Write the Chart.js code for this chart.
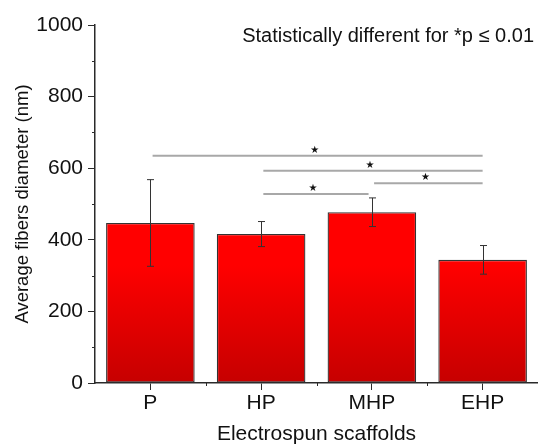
<!DOCTYPE html>
<html>
<head>
<meta charset="utf-8">
<script src="https://cdn.jsdelivr.net/npm/chart.js@4"></script>
<style>
  html,body{margin:0;padding:0;background:#fff;}
  #wrap{width:538px;height:447px;position:relative;}
</style>
</head>
<body>
<div id="wrap"><canvas id="c"></canvas></div>
<script>
const labels  = ['P','HP','MHP','EHP'];
const means   = [447, 416, 477, 344];
const errs    = [121, 35, 40, 40];
// significance bars: [from index, to index, height (nm)]
const sigFrom = [0, 1, 2, 1];
const sigTo   = [3, 3, 3, 2];
const sigY    = [635, 593, 558, 528];
const note    = 'Statistically different for *p \u2264 0.01';
const FONT = 'Liberation Sans, Arial, sans-serif';
const AXC = '#2a2a2a';

const barFill = ctx => {
  const a = ctx.chart.chartArea;
  if (!a) return '#f00';
  const y = ctx.chart.scales.y;
  const g = ctx.chart.ctx.createLinearGradient(0, y.getPixelForValue(330), 0, a.bottom);
  g.addColorStop(0, '#ff0000');
  g.addColorStop(1, '#c60000');
  return g;
};

const extras = {
  id: 'extras',
  afterDatasetsDraw(chart) {
    const c = chart.ctx, x = chart.scales.x, y = chart.scales.y, a = chart.chartArea;
    c.save();
    // error bars
    c.strokeStyle = '#333'; c.lineWidth = 1;
    means.forEach((m, i) => {
      const px = Math.round(x.getPixelForValue(i)) + 0.5;
      const t = y.getPixelForValue(m + errs[i]), b = y.getPixelForValue(m - errs[i]);
      c.beginPath();
      c.moveTo(px, t); c.lineTo(px, b);
      c.moveTo(px - 3.5, t); c.lineTo(px + 3.5, t);
      c.moveTo(px - 3.5, b); c.lineTo(px + 3.5, b);
      c.stroke();
    });
    // significance lines
    c.strokeStyle = '#a8a8a8'; c.lineWidth = 2;
    c.fillStyle = '#111'; c.font = '10px DejaVu Sans';
    c.textAlign = 'center'; c.textBaseline = 'middle';
    sigFrom.forEach((f, i) => {
      const x1 = x.getPixelForValue(f + 0.02), x2 = x.getPixelForValue(sigTo[i] - (i === 3 ? 0.03 : 0));
      const py = y.getPixelForValue(sigY[i]);
      c.beginPath(); c.moveTo(x1, py); c.lineTo(x2, py); c.stroke();
      c.fillText('\u2605', (x1 + x2) / 2 - 3, py - 5.5);
    });
    // minor y ticks
    c.strokeStyle = AXC; c.lineWidth = 1;
    for (let v = 100; v < 1000; v += 200) {
      const py = Math.round(y.getPixelForValue(v)) + 0.5;
      c.beginPath(); c.moveTo(a.left - 3, py); c.lineTo(a.left, py); c.stroke();
    }
    // minor x ticks at category boundaries
    for (let i = 0; i < labels.length - 1; i++) {
      const px = Math.round(x.getPixelForValue(i + 0.5)) + 0.5;
      c.beginPath(); c.moveTo(px, a.bottom); c.lineTo(px, a.bottom + 3); c.stroke();
    }
    // note
    c.fillStyle = '#111'; c.font = '20px ' + FONT;
    c.textAlign = 'right'; c.textBaseline = 'middle';
    c.fillText(note, 534, 36);
    c.restore();
  }
};

new Chart(document.getElementById('c'), {
  type: 'bar',
  data: {
    labels: labels,
    datasets: [{
      data: means,
      backgroundColor: barFill,
      borderColor: '#333',
      borderWidth: 1.3,
      borderSkipped: false,
      barPercentage: 0.8,
      categoryPercentage: 1
    }]
  },
  options: {
    responsive: true,
    maintainAspectRatio: false,
    animation: false,
    layout: { padding: { top: 25, right: 0, left: 0, bottom: 0 } },
    plugins: { legend: { display: false }, tooltip: { enabled: false } },
    scales: {
      x: {
        offset: true,
        grid: { offset: false, drawOnChartArea: false, color: AXC, tickLength: 7, tickWidth: 1 },
        border: { color: AXC, width: 1.5 },
        ticks: { color: '#111', font: { family: FONT, size: 21 }, padding: 1 },
        title: { display: true, text: 'Electrospun scaffolds', color: '#111', font: { family: FONT, size: 21 }, padding: { top: 3, bottom: 0 } },
        afterFit: s => { s.height = 64; }
      },
      y: {
        min: 0, max: 1000,
        ticks: { stepSize: 200, color: '#111', font: { family: FONT, size: 21 }, padding: 5,
                 callback: v => String(v) },
        grid: { drawOnChartArea: false, color: AXC, tickLength: 7, tickWidth: 1 },
        border: { color: AXC, width: 1.5 },
        title: { display: true, text: 'Average fibers diameter (nm)', color: '#111', font: { family: FONT, size: 18.5 }, padding: { top: 12, bottom: 0 } },
        afterFit: s => { s.width = 95; }
      }
    }
  },
  plugins: [extras]
});
</script>
</body>
</html>
